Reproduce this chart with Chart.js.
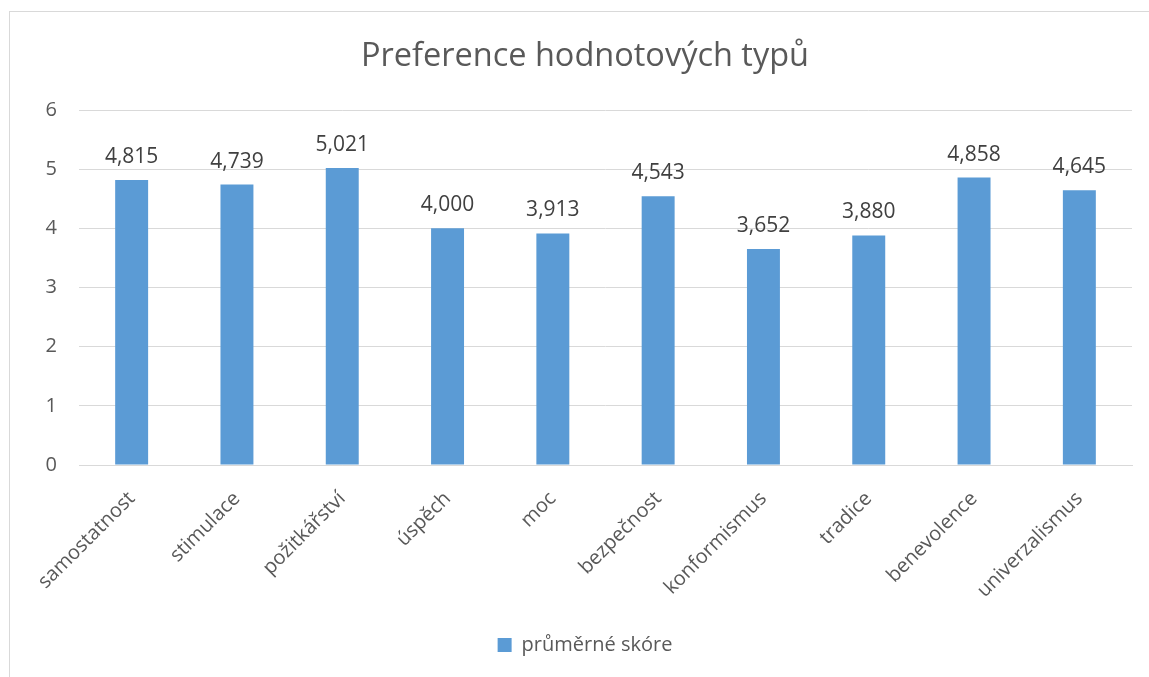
<!DOCTYPE html>
<html>
<head>
<meta charset="utf-8">
<script src="https://cdn.jsdelivr.net/npm/chart.js@4"></script>
<style>
  html, body { margin: 0; padding: 0; background: #ffffff; overflow: hidden; }
  #wrap { position: relative; width: 1149px; height: 677px; }
  #frame { position: absolute; left: 9px; top: 11px; width: 1200px; height: 720px; border: 1px solid #d9d9d9; box-sizing: border-box; }
  #c { position: absolute; left: 0; top: 0; }
</style>
</head>
<body>
<div id="wrap">
  <div id="frame"></div>
  <canvas id="c" width="1149" height="677"></canvas>
</div>
<script>
const categories = ["samostatnost", "stimulace", "požitkářství", "úspěch", "moc", "bezpečnost", "konformismus", "tradice", "benevolence", "univerzalismus"];
const scores = [4.815, 4.739, 5.021, 4.000, 3.913, 4.543, 3.652, 3.880, 4.858, 4.645];
const seriesName = "průměrné skóre";
const chartTitle = "Preference hodnotových typů";
const yTicks = [0, 1, 2, 3, 4, 5, 6];

const FONT = "'Open Sans', 'Noto Sans', sans-serif";

const valueLabels = {
  id: 'valueLabels',
  afterDatasetsDraw(chart) {
    const ctx = chart.ctx;
    const meta = chart.getDatasetMeta(0);
    ctx.save();
    ctx.font = "21px " + FONT;
    ctx.fillStyle = "#404040";
    ctx.textAlign = "center";
    ctx.textBaseline = "alphabetic";
    meta.data.forEach((el, i) => {
      const v = chart.data.datasets[0].data[i];
      ctx.fillText(v.toFixed(3).replace('.', ','), el.x, el.y - 17);
    });
    ctx.restore();
  }
};

new Chart(document.getElementById('c'), {
  type: 'bar',
  data: {
    labels: categories,
    datasets: [{
      label: seriesName,
      data: scores,
      backgroundColor: '#5b9bd5',
      borderWidth: 0,
      categoryPercentage: 1,
      barPercentage: 0.313
    }]
  },
  options: {
    responsive: false,
    animation: false,
    devicePixelRatio: 1,
    layout: { padding: { top: 0, left: 38, right: 17, bottom: 12 } },
    plugins: {
      title: {
        display: true,
        text: chartTitle,
        color: '#595959',
        font: { family: FONT, size: 32.5, weight: 'normal', lineHeight: 1.2 },
        padding: { top: 37, bottom: 34 }
      },
      legend: {
        display: true,
        position: 'bottom',
        labels: {
          color: '#595959',
          font: { family: FONT, size: 20 },
          boxWidth: 14,
          boxHeight: 14,
          padding: 10
        }
      },
      tooltip: { enabled: false }
    },
    scales: {
      y: {
        min: 0,
        max: 6,
        afterBuildTicks(scale) { scale.ticks = yTicks.map(v => ({ value: v })); },
        afterFit(scale) { scale.width = 41; },
        border: { display: false },
        grid: { color: '#d9d9d9', lineWidth: 1, drawTicks: false },
        ticks: {
          color: '#595959',
          font: { family: FONT, size: 20 },
          padding: 22
        }
      },
      x: {
        afterFit(scale) { scale.height = 160; },
        border: { display: true, color: '#d9d9d9' },
        grid: { display: false, drawTicks: false },
        ticks: {
          color: '#595959',
          font: { family: FONT, size: 20 },
          minRotation: 45,
          maxRotation: 45,
          padding: 22
        }
      }
    }
  },
  plugins: [valueLabels]
});
</script>
</body>
</html>
